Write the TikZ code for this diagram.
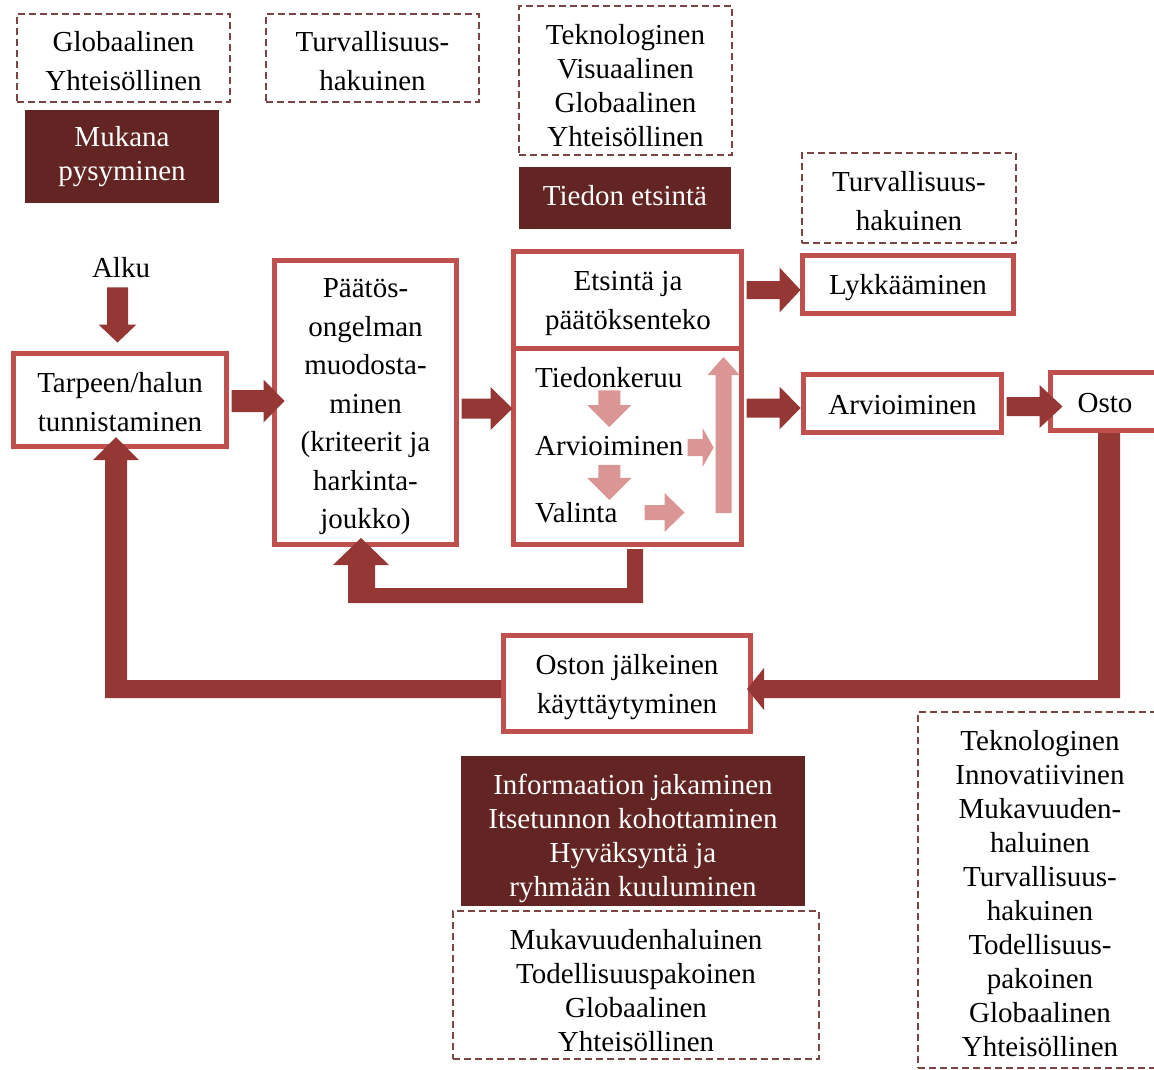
\documentclass[tikz,border=0pt]{standalone}
\usepackage{fontspec}
\setmainfont{Liberation Serif}
\usetikzlibrary{calc}
\definecolor{boxred}{HTML}{C0504D}
\definecolor{arrdark}{HTML}{953735}
\definecolor{darkfill}{HTML}{632523}
\definecolor{pinkarr}{HTML}{D99694}
\definecolor{dashc}{HTML}{7A4543}
% invisible strut that lowers the first line of a node's text
\newcommand\tg[1]{\rule{0pt}{#1pt}}
% horizontal block arrow: start, tip, shaft half, head half, head length, colour
\newcommand\arrR[6]{\fill[#6] let \p1=(#1),\p2=(#2) in
  (\x1,\y2+#3pt) -- (\x2-#5pt,\y2+#3pt) -- (\x2-#5pt,\y2+#4pt) -- (\x2,\y2)
  -- (\x2-#5pt,\y2-#4pt) -- (\x2-#5pt,\y2-#3pt) -- (\x1,\y2-#3pt) -- cycle;}
% downward block arrow
\newcommand\arrD[6]{\fill[#6] let \p1=(#1),\p2=(#2) in
  (\x2-#3pt,\y1) -- (\x2-#3pt,\y2+#5pt) -- (\x2-#4pt,\y2+#5pt) -- (\x2,\y2)
  -- (\x2+#4pt,\y2+#5pt) -- (\x2+#3pt,\y2+#5pt) -- (\x2+#3pt,\y1) -- cycle;}
% upward block arrow
\newcommand\arrU[6]{\fill[#6] let \p1=(#1),\p2=(#2) in
  (\x2-#3pt,\y1) -- (\x2-#3pt,\y2-#5pt) -- (\x2-#4pt,\y2-#5pt) -- (\x2,\y2)
  -- (\x2+#4pt,\y2-#5pt) -- (\x2+#3pt,\y2-#5pt) -- (\x2+#3pt,\y1) -- cycle;}
\begin{document}
\begin{tikzpicture}[x=1pt,y=-1pt,
  every node/.style={inner sep=0pt, align=center, font=\fontsize{29pt}{38.5pt}\selectfont},
  tight/.style={font=\fontsize{29pt}{34pt}\selectfont},
  redbox/.style={draw=boxred, line width=5pt, fill=white},
  dashbox/.style={draw=dashc, line width=1.4pt, dash pattern=on 7pt off 4pt},
  darkbox/.style={fill=darkfill, text=white}]
\useasboundingbox (0,0) rectangle (1154,1070);
\fill[white] (0,0) rectangle (1154,1070);
\clip (0,0) rectangle (1154,1070);

% top annotation boxes
\node[dashbox, minimum width=213pt, minimum height=88pt] (d1) at (123.5,58) {\tg{26}Globaalinen\\Yhteisöllinen};
\node[darkbox, tight, minimum width=194pt, minimum height=93pt] (muk) at (122,156.5) {Mukana\\pysyminen};
\node[dashbox, minimum width=213pt, minimum height=88pt] (d2) at (372.5,58) {\tg{26}Turvallisuus-\\hakuinen};
\node[dashbox, tight, minimum width=213pt, minimum height=149pt] (d3) at (625.5,80.5) {\tg{30}Teknologinen\\Visuaalinen\\Globaalinen\\Yhteisöllinen};
\node[darkbox, minimum width=212pt, minimum height=62pt] (tied) at (625,198) {};
\node[text=white] (tiedt) at (625,196) {Tiedon etsintä};
\node[dashbox, minimum width=214pt, minimum height=90pt] (d4) at (909,198) {\tg{26}Turvallisuus-\\hakuinen};

% main process
\node (alku) at (121,268) {Alku};
\node[redbox, minimum width=213pt, minimum height=93pt] (tarp) at (120,400) {\tg{24}Tarpeen/halun\\tunnistaminen};
\node[redbox, minimum width=182pt, minimum height=284pt] (paat) at (365.5,402.5) {\tg{28}Päätös-\\ongelman\\muodosta-\\minen\\(kriteerit ja\\harkinta-\\joukko)};
\node[redbox, minimum width=228pt, minimum height=293pt] (ets) at (627.5,398) {};
\draw[boxred, line width=5pt] (ets.west |- 0,348) -- (ets.east |- 0,348);
\node (etst) at (628,300) {\tg{26}Etsintä ja\\päätöksenteko};
\node[anchor=west] (tk) at (535,378) {Tiedonkeruu};
\node[anchor=west] (av) at (535,446) {Arvioiminen};
\node[anchor=west] (va) at (535,513) {Valinta};
\node[redbox, minimum width=211pt, minimum height=58pt] (lyk) at (908,284.5) {\tg{26}Lykkääminen};
\node[redbox, minimum width=198pt, minimum height=58pt] (arv) at (902.5,403.5) {\tg{23}Arvioiminen};
\node[redbox, minimum width=109pt, minimum height=58pt] (osto) at (1105,401.5) {\tg{23}Osto};
\node[redbox, minimum width=247pt, minimum height=96pt] (oston) at (627,683.5) {\tg{27}Oston jälkeinen\\käyttäytyminen};

% bottom annotation boxes
\node[darkbox, minimum width=344pt, minimum height=150pt] (info) at (633,831) {};
\begin{scope}
  \clip (info.south west) rectangle (info.north east);
  \node[tight, text=white] (infot) at (633,838) {Informaation jakaminen\\Itsetunnon kohottaminen\\Hyväksyntä ja\\ryhmään kuuluminen};
\end{scope}
\node[dashbox, tight, minimum width=366pt, minimum height=148pt] (d5) at (636,985) {\tg{31}Mukavuudenhaluinen\\Todellisuuspakoinen\\Globaalinen\\Yhteisöllinen};
\node[dashbox, tight, minimum width=244pt, minimum height=356pt] (d6) at (1040,890) {\tg{28}Teknologinen\\Innovatiivinen\\Mukavuuden-\\haluinen\\Turvallisuus-\\hakuinen\\Todellisuus-\\pakoinen\\Globaalinen\\Yhteisöllinen};

% dark block arrows
\arrD{$(alku.south)+(0,9)$}{$(tarp.north)+(-2.5,-8.5)$}{10.5}{19}{18}{arrdark}
\arrR{$(tarp.east)+(2.5,0)$}{$(paat.west)+(12.5,-1.5)$}{11}{21.5}{21}{arrdark}
\arrR{$(paat.east)+(2.5,0)$}{$(ets.west)+(1.5,10.5)$}{10}{21.5}{22}{arrdark}
\arrR{$(ets.east)+(2.5,0)$}{$(lyk.west)+(0.5,5.5)$}{9}{22.5}{21}{arrdark}
\arrR{$(ets.east)+(2.5,0)$}{$(arv.west)+(-0.5,4.5)$}{9.5}{21.5}{21}{arrdark}
\arrR{$(arv.east)+(2.5,0)$}{$(osto.west)+(14.5,5)$}{9.5}{21.5}{23}{arrdark}

% loop: Osto -> Oston jälkeinen käyttäytyminen
\fill[arrdark] (1098,433) -- (1120,433) -- (1120,698) -- (764,698) -- (764,710)
  -- (747,689) -- (764,668) -- (764,680) -- (1098,680) -- cycle;
% loop: Oston jälkeinen -> Tarpeen/halun tunnistaminen
\fill[arrdark] (501,680) -- (501,698) -- (105,698) -- (105,460) -- (93,460)
  -- (116,437) -- (139,460) -- (127,460) -- (127,680) -- cycle;
% loop: Etsintä -> Päätösongelman muodostaminen
\fill[arrdark] (627,549) -- (643,549) -- (643,603) -- (348,603) -- (348,565) -- (333,565)
  -- (361,538) -- (389,565) -- (375,565) -- (375,588) -- (627,588) -- cycle;

% light arrows inside the search box
\arrD{$(tk.south)+(0,2)$}{$(av.north)+(0,-9)$}{11}{22}{22}{pinkarr}
\arrD{$(av.south)+(0,9)$}{$(av.south)+(0,44)$}{11}{22}{22}{pinkarr}
\arrR{$(av.east)+(4,1.5)$}{$(av.east)+(30,1.5)$}{8.5}{19.5}{11}{pinkarr}
\arrR{$(va.east)+(27,-0.5)$}{$(va.east)+(67,-0.5)$}{7.5}{19.5}{20}{pinkarr}
\arrU{$(ets.east)+(-20.5,115)$}{$(ets.east)+(-20.5,-41)$}{8}{16}{18}{pinkarr}
\end{tikzpicture}
\end{document}
